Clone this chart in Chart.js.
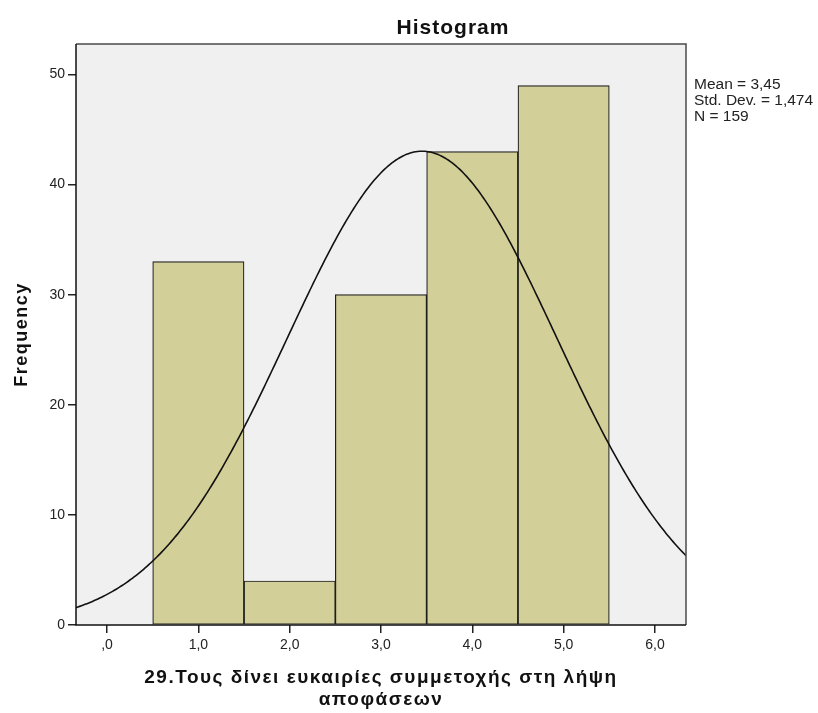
<!DOCTYPE html>
<html>
<head>
<meta charset="utf-8">
<title>Histogram</title>
<script src="https://cdn.jsdelivr.net/npm/chart.js@4.4.1/dist/chart.umd.min.js"></script>
<style>
  html, body { margin: 0; padding: 0; background: #fff; }
</style>
</head>
<body>
<canvas id="hist" width="818" height="713"></canvas>
<script>
// Histogram bins (centre of each bin) and their counts
const binCenters = [1, 2, 3, 4, 5];
const frequencies = [33, 4, 30, 43, 49];
const binWidth = 1;

// Axis ticks
const xTicks = [0, 1, 2, 3, 4, 5, 6];
const yTicks = [0, 10, 20, 30, 40, 50];

// Summary stats printed beside the plot, also used for the normal curve
const mean = 3.45;
const stdDev = 1.474;
const n = 159;

const xMin = -0.34, xMax = 6.34;
const yMax = 52.77;

const FONT = "'Liberation Sans', Arial, sans-serif";

// Normal curve scaled to counts
function normalCurve() {
  const pts = [];
  const peak = n * binWidth / (stdDev * Math.sqrt(2 * Math.PI));
  for (let x = xMin; x <= xMax + 1e-9; x += 0.02) {
    const z = (x - mean) / stdDev;
    pts.push({ x: x, y: peak * Math.exp(-0.5 * z * z) });
  }
  return pts;
}

function commaNum(v) {
  const s = v.toFixed(1).replace('.', ',');
  return s.startsWith('0') ? s.slice(1) : s;
}

// Grey plot background and frame around the chart area
const framePlugin = {
  id: 'frame',
  beforeDatasetsDraw(chart) {
    const { ctx, chartArea: a } = chart;
    ctx.save();
    ctx.fillStyle = '#f0f0f0';
    ctx.fillRect(a.left, a.top, a.right - a.left, a.bottom - a.top);
    ctx.restore();
  },
  afterDatasetsDraw(chart) {
    const { ctx, chartArea: a } = chart;
    ctx.save();
    ctx.lineWidth = 1.5;
    ctx.strokeStyle = '#4a4a4a';
    ctx.beginPath();
    ctx.moveTo(a.left, a.top);
    ctx.lineTo(a.right, a.top);
    ctx.lineTo(a.right, a.bottom);
    ctx.stroke();
    ctx.strokeStyle = '#111';
    ctx.beginPath();
    ctx.moveTo(a.left, a.top);
    ctx.lineTo(a.left, a.bottom);
    ctx.lineTo(a.right, a.bottom);
    ctx.stroke();
    ctx.restore();
  }
};

// Titles and the stats box
const textPlugin = {
  id: 'texts',
  afterDraw(chart) {
    const { ctx, chartArea: a } = chart;
    ctx.save();
    ctx.fillStyle = '#111';
    ctx.textAlign = 'center';
    ctx.textBaseline = 'middle';

    ctx.letterSpacing = '1px';
    ctx.font = 'bold 21px ' + FONT;
    ctx.fillText('Histogram', 453, 28);

    ctx.font = 'bold 18px ' + FONT;
    ctx.letterSpacing = '1.5px';
    ctx.save();
    ctx.translate(22.5, (a.top + a.bottom) / 2);
    ctx.rotate(-Math.PI / 2);
    ctx.fillText('Frequency', 0, 0);
    ctx.restore();

    ctx.font = 'bold 19px ' + FONT;
    const cx = (a.left + a.right) / 2;
    ctx.fillText('29.Τους δίνει ευκαιρίες συμμετοχής στη λήψη', cx, 678);
    ctx.fillText('αποφάσεων', cx, 700);

    ctx.letterSpacing = '0px';
    ctx.font = '15.5px ' + FONT;
    ctx.textAlign = 'left';
    ctx.fillStyle = '#222';
    const stats = [
      'Mean = ' + mean.toFixed(2).replace('.', ','),
      'Std. Dev. = ' + stdDev.toFixed(3).replace('.', ','),
      'N = ' + n
    ];
    stats.forEach((s, i) => ctx.fillText(s, 694, 85 + i * 16));
    ctx.restore();
  }
};

const ctx = document.getElementById('hist').getContext('2d');

new Chart(ctx, {
  data: {
    datasets: [
      {
        type: 'bar',
        data: binCenters.map((x, i) => ({ x: x, y: frequencies[i] })),
        backgroundColor: '#d3cf98',
        borderColor: '#1e1e1e',
        borderWidth: 1.2,
        borderSkipped: false,
        barPercentage: 1,
        categoryPercentage: 1,
        order: 2
      },
      {
        type: 'line',
        data: normalCurve(),
        borderColor: '#111',
        borderWidth: 1.6,
        pointRadius: 0,
        tension: 0,
        fill: false,
        order: 1
      }
    ]
  },
  options: {
    responsive: false,
    animation: false,
    events: [],
    layout: { padding: { left: 0, right: 132, top: 44, bottom: 0 } },
    plugins: {
      legend: { display: false },
      tooltip: { enabled: false }
    },
    scales: {
      x: {
        type: 'linear',
        min: xMin,
        max: xMax,
        offset: false,
        afterFit: s => { s.height = 88; },
        afterBuildTicks: s => { s.ticks = xTicks.map(v => ({ value: v })); },
        border: { display: false },
        grid: { offset: false, drawOnChartArea: false, drawTicks: true, tickLength: 8, color: '#222', lineWidth: 1.5 },
        ticks: {
          autoSkip: false,
          maxRotation: 0,
          padding: 4,
          color: '#222',
          font: { family: FONT, size: 14 },
          callback: v => commaNum(v)
        }
      },
      y: {
        type: 'linear',
        min: 0,
        max: yMax,
        afterFit: s => { s.width = 76; },
        afterBuildTicks: s => { s.ticks = yTicks.map(v => ({ value: v })); },
        border: { display: false },
        grid: { drawOnChartArea: false, drawTicks: true, tickLength: 8, color: '#222', lineWidth: 1.5 },
        ticks: {
          padding: 3,
          color: '#222',
          font: { family: FONT, size: 14 },
          callback: v => String(v)
        }
      }
    }
  },
  plugins: [framePlugin, textPlugin]
});
</script>
</body>
</html>
